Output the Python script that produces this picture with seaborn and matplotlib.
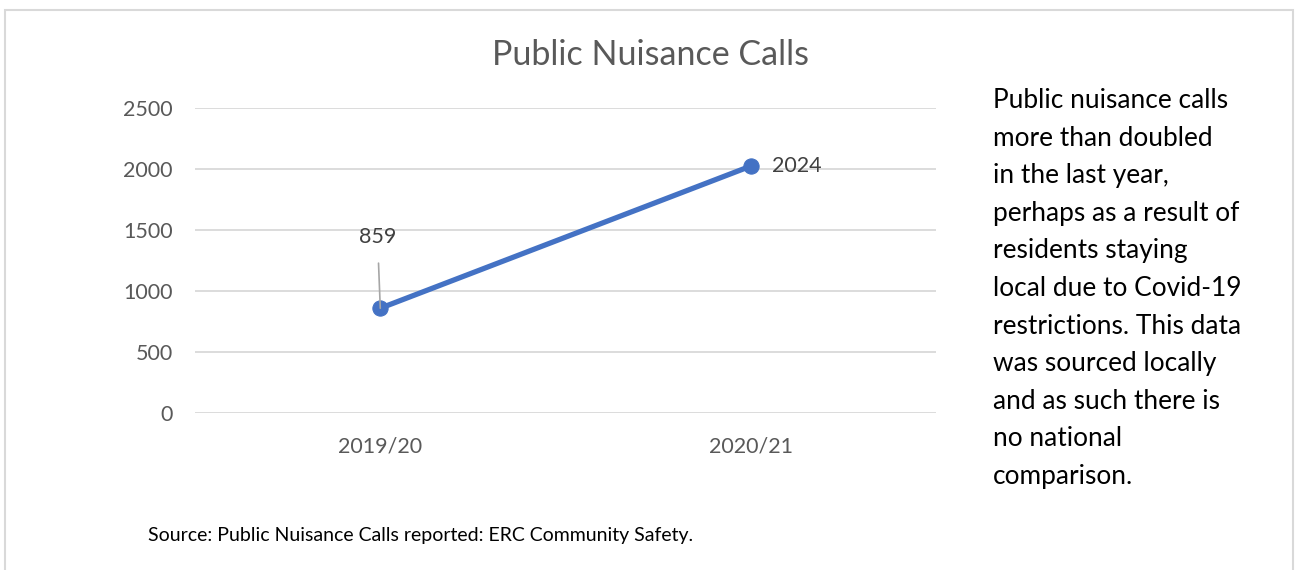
import matplotlib
matplotlib.use("Agg")
import matplotlib.pyplot as plt
import seaborn as sns
import pandas as pd
from matplotlib.patches import Rectangle

# data
years = ["2019/20", "2020/21"]
calls = [859, 2024]
y_ticks = [0, 500, 1000, 1500, 2000, 2500]

df = pd.DataFrame({"Year": years, "Calls": calls})

sns.set_theme(style="white")
plt.rcParams["font.family"] = ["Lato", "DejaVu Sans"]

fig = plt.figure(figsize=(13.01, 5.70), dpi=100)
ax = fig.add_axes([0.1499, 0.2754, 0.5696, 0.5351])

sns.lineplot(data=df, x="Year", y="Calls", ax=ax, color="#4472C4",
             linewidth=3.8, marker="o", markersize=11,
             markeredgecolor="#4472C4", sort=False)

ax.set_xlim(-0.5, 1.5)
ax.set_ylim(0, 2500)
ax.set_yticks(y_ticks)
ax.set_yticklabels([str(t) for t in y_ticks])
ax.grid(axis="y", color="#D9D9D9", linewidth=1.3)
ax.set_axisbelow(True)
for s in ax.spines.values():
    s.set_visible(False)
ax.tick_params(axis="both", length=0, labelsize=15.5, labelcolor="#595959")
ax.tick_params(axis="y", pad=16)
ax.tick_params(axis="x", pad=17)
ax.set_xlabel("")
ax.set_ylabel("")

# chart title centred on the whole figure
fig.text(0.5, 1 - 55 / 570, "Public Nuisance Calls", ha="center",
         va="center", fontsize=24.5, color="#595959")

# data labels
ax.annotate(str(calls[0]), xy=(0, calls[0]), xytext=(-2, 51),
            textcoords="offset points", ha="center", va="center",
            fontsize=15.5, color="#404040",
            arrowprops=dict(arrowstyle="-", color="#A6A6A6", lw=1.2,
                            shrinkA=9, shrinkB=0))
ax.annotate(str(calls[1]), xy=(1, calls[1]), xytext=(15, 0),
            textcoords="offset points", ha="left", va="center",
            fontsize=15.5, color="#404040")

side_text = ("Public nuisance calls\nmore than doubled\nin the last year,\n"
             "perhaps as a result of\nresidents staying\nlocal due to Covid-19\n"
             "restrictions. This data\nwas sourced locally\nand as such there is\n"
             "no national\ncomparison.")
fig.text(993 / 1301, 1 - 88 / 570, side_text, ha="left", va="top",
         fontsize=18.9, color="black", linespacing=1.63)

fig.text(148 / 1301, 1 - 535 / 570,
         "Source: Public Nuisance Calls reported: ERC Community Safety.",
         ha="left", va="center", fontsize=14, color="black")

fig.patches.append(Rectangle((5 / 1301, -0.05), (1293 - 5) / 1301,
                             1.05 - 10 / 570, transform=fig.transFigure,
                             fill=False, edgecolor="#D9D9D9", linewidth=1.5))

fig.savefig("out.png", dpi=100)
